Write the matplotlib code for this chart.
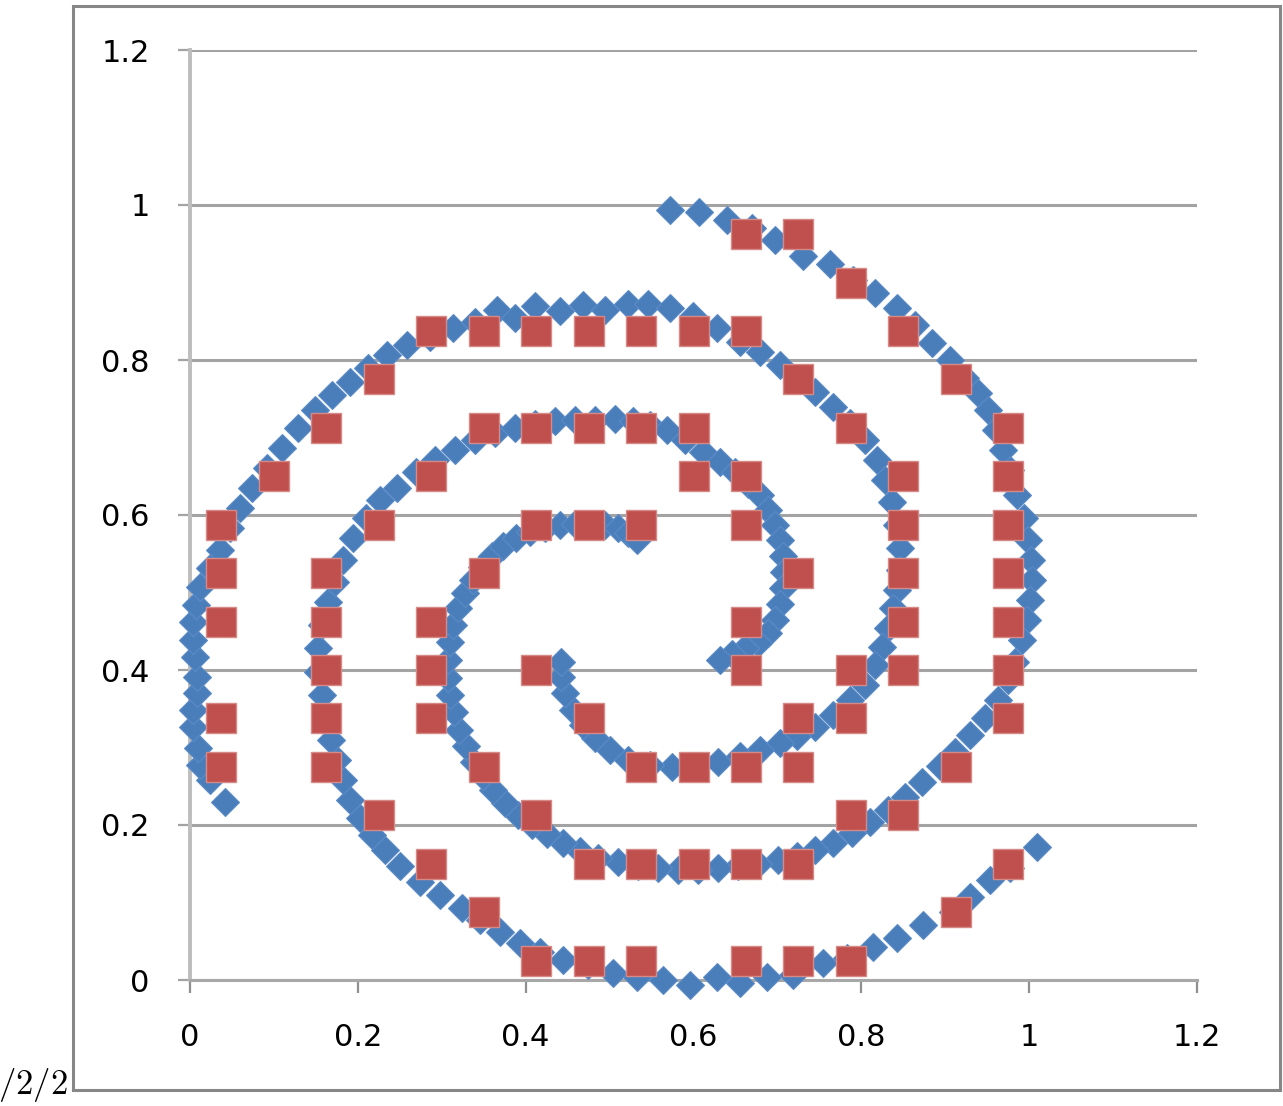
import matplotlib.pyplot as plt
from matplotlib.patches import Rectangle

plt.rcParams['mathtext.fontset'] = 'cm'

# three spiral arms (blue diamonds), each traced from its outer end inwards
arm1_x = [1.009, 0.977, 0.953, 0.929, 0.909, 0.873, 0.842, 0.814, 0.783, 0.754,
          0.719, 0.688, 0.655, 0.628, 0.596, 0.564, 0.533, 0.504, 0.474, 0.445,
          0.417, 0.393, 0.369, 0.346, 0.324, 0.298, 0.274, 0.250, 0.232, 0.217,
          0.203, 0.191, 0.182, 0.175, 0.168, 0.163, 0.157, 0.153, 0.153, 0.157,
          0.164, 0.173, 0.182, 0.194, 0.210, 0.226, 0.247, 0.269, 0.292, 0.316,
          0.340, 0.363, 0.387, 0.411, 0.435, 0.459, 0.483, 0.506, 0.528, 0.548,
          0.568, 0.590, 0.611, 0.632, 0.649, 0.665, 0.679, 0.689, 0.697, 0.703,
          0.707, 0.708, 0.707, 0.703, 0.697, 0.689, 0.677, 0.661, 0.646, 0.632]
arm1_y = [0.172, 0.145, 0.129, 0.107, 0.088, 0.071, 0.054, 0.043, 0.028, 0.022,
          0.006, 0.004, -0.004, 0.004, -0.006, 0.000, 0.004, 0.009, 0.019, 0.026,
          0.036, 0.048, 0.062, 0.077, 0.093, 0.110, 0.126, 0.147, 0.168, 0.187,
          0.209, 0.232, 0.258, 0.284, 0.310, 0.338, 0.368, 0.397, 0.428, 0.458,
          0.488, 0.514, 0.542, 0.570, 0.596, 0.619, 0.635, 0.655, 0.671, 0.684,
          0.697, 0.706, 0.712, 0.717, 0.721, 0.723, 0.723, 0.724, 0.721, 0.716,
          0.710, 0.697, 0.681, 0.668, 0.655, 0.640, 0.626, 0.606, 0.587, 0.568,
          0.547, 0.526, 0.506, 0.485, 0.465, 0.448, 0.435, 0.428, 0.421, 0.413]

arm2_x = [0.042, 0.024, 0.012, 0.010, 0.004, 0.004, 0.008, 0.008, 0.006, 0.004,
          0.004, 0.007, 0.012, 0.024, 0.036, 0.048, 0.060, 0.074, 0.092, 0.110,
          0.129, 0.149, 0.169, 0.191, 0.212, 0.235, 0.259, 0.286, 0.313, 0.340,
          0.366, 0.387, 0.411, 0.441, 0.468, 0.495, 0.522, 0.546, 0.572, 0.599,
          0.628, 0.655, 0.679, 0.703, 0.723, 0.745, 0.766, 0.786, 0.804, 0.819,
          0.828, 0.837, 0.842, 0.846, 0.846, 0.842, 0.838, 0.832, 0.825, 0.816,
          0.804, 0.786, 0.766, 0.745, 0.723, 0.703, 0.679, 0.655, 0.629, 0.602,
          0.574, 0.548, 0.522, 0.500, 0.483, 0.468, 0.456, 0.447, 0.442, 0.442]
arm2_y = [0.230, 0.258, 0.277, 0.299, 0.326, 0.348, 0.370, 0.391, 0.417, 0.439,
          0.462, 0.484, 0.507, 0.532, 0.555, 0.583, 0.609, 0.635, 0.661, 0.686,
          0.712, 0.735, 0.755, 0.772, 0.790, 0.806, 0.819, 0.830, 0.841, 0.849,
          0.865, 0.854, 0.870, 0.863, 0.871, 0.865, 0.872, 0.872, 0.867, 0.857,
          0.841, 0.823, 0.810, 0.794, 0.777, 0.759, 0.739, 0.719, 0.697, 0.671,
          0.645, 0.617, 0.587, 0.557, 0.529, 0.503, 0.480, 0.454, 0.430, 0.406,
          0.381, 0.361, 0.342, 0.326, 0.315, 0.306, 0.297, 0.289, 0.281, 0.276,
          0.275, 0.277, 0.284, 0.297, 0.312, 0.329, 0.348, 0.370, 0.391, 0.410]

arm3_x = [0.572, 0.607, 0.640, 0.670, 0.697, 0.730, 0.763, 0.790, 0.816, 0.842,
          0.864, 0.884, 0.906, 0.923, 0.939, 0.951, 0.960, 0.969, 0.977, 0.985,
          0.994, 0.999, 1.002, 1.003, 1.001, 0.997, 0.991, 0.983, 0.975, 0.963,
          0.947, 0.929, 0.912, 0.894, 0.872, 0.852, 0.832, 0.810, 0.789, 0.766,
          0.745, 0.723, 0.701, 0.677, 0.653, 0.629, 0.605, 0.582, 0.558, 0.534,
          0.510, 0.486, 0.465, 0.445, 0.425, 0.408, 0.391, 0.375, 0.361, 0.349,
          0.338, 0.329, 0.321, 0.315, 0.310, 0.307, 0.307, 0.310, 0.313, 0.319,
          0.328, 0.337, 0.348, 0.360, 0.373, 0.388, 0.405, 0.423, 0.441, 0.459,
          0.477, 0.495, 0.510, 0.522, 0.533]
arm3_y = [0.994, 0.991, 0.981, 0.970, 0.955, 0.934, 0.924, 0.903, 0.886, 0.867,
          0.845, 0.822, 0.800, 0.777, 0.757, 0.735, 0.710, 0.684, 0.658, 0.626,
          0.596, 0.568, 0.542, 0.516, 0.490, 0.465, 0.439, 0.410, 0.387, 0.361,
          0.338, 0.316, 0.294, 0.276, 0.255, 0.236, 0.219, 0.204, 0.190, 0.177,
          0.168, 0.160, 0.155, 0.150, 0.147, 0.145, 0.142, 0.142, 0.145, 0.147,
          0.152, 0.157, 0.166, 0.177, 0.188, 0.200, 0.213, 0.228, 0.245, 0.263,
          0.281, 0.302, 0.323, 0.346, 0.368, 0.390, 0.413, 0.436, 0.458, 0.480,
          0.499, 0.516, 0.533, 0.547, 0.560, 0.570, 0.578, 0.583, 0.587, 0.588,
          0.588, 0.587, 0.583, 0.577, 0.568]

# red grid squares, row by row (top to bottom)
sq_row_y = [0.9625, 0.9, 0.8375, 0.775, 0.7125, 0.65, 0.5875, 0.525,
            0.4625, 0.4, 0.3375, 0.275, 0.2125, 0.15, 0.0875, 0.025]
sq_row_x = [
    [0.6625, 0.725],
    [0.7875],
    [0.2875, 0.35, 0.4125, 0.475, 0.5375, 0.6, 0.6625, 0.85],
    [0.225, 0.725, 0.9125],
    [0.1625, 0.35, 0.4125, 0.475, 0.5375, 0.6, 0.7875, 0.975],
    [0.1, 0.2875, 0.6, 0.6625, 0.85, 0.975],
    [0.0375, 0.225, 0.4125, 0.475, 0.5375, 0.6625, 0.85, 0.975],
    [0.0375, 0.1625, 0.35, 0.725, 0.85, 0.975],
    [0.0375, 0.1625, 0.2875, 0.6625, 0.85, 0.975],
    [0.1625, 0.2875, 0.4125, 0.6625, 0.7875, 0.85, 0.975],
    [0.0375, 0.1625, 0.2875, 0.475, 0.725, 0.7875, 0.975],
    [0.0375, 0.1625, 0.35, 0.5375, 0.6, 0.6625, 0.725, 0.9125],
    [0.225, 0.4125, 0.7875, 0.85],
    [0.2875, 0.475, 0.5375, 0.6, 0.6625, 0.725, 0.975],
    [0.35, 0.9125],
    [0.4125, 0.475, 0.5375, 0.6625, 0.725, 0.7875],
]

ticks = [0, 0.2, 0.4, 0.6, 0.8, 1.0, 1.2]
tick_labels = ['0', '0.2', '0.4', '0.6', '0.8', '1', '1.2']

sq_x = []
sq_y = []
for yy, xs in zip(sq_row_y, sq_row_x):
    for xx in xs:
        sq_x.append(xx)
        sq_y.append(yy)

W, H = 1283, 1106
fig = plt.figure(figsize=(W / 100, H / 100), dpi=100)
ax = fig.add_axes([190 / W, 126 / H, 1007 / W, 930 / H])

blue = '#4a7ebb'
red = '#c0504d'
for xs, ys in [(arm1_x, arm1_y), (arm2_x, arm2_y), (arm3_x, arm3_y)]:
    ax.plot(xs, ys, 'D', ms=14.5, color=blue, mec='#5b8bc6', mew=0.8,
            clip_on=False, zorder=3)
ax.plot(sq_x, sq_y, 's', ms=21, color=red, mec='#d58a88', mew=1.0,
        clip_on=False, zorder=4)

ax.set_xlim(0, 1.2)
ax.set_ylim(0, 1.2)
ax.set_xticks(ticks)
ax.set_xticklabels(tick_labels)
ax.set_yticks(ticks)
ax.set_yticklabels(tick_labels)

ax.yaxis.grid(True, color='#a3a3a3', lw=2.2)
ax.set_axisbelow(True)
for s in ['top', 'right']:
    ax.spines[s].set_visible(False)
ax.spines['left'].set_color('#bdbdbd')
ax.spines['left'].set_linewidth(2.8)
ax.spines['bottom'].set_color('#a8a8a8')
ax.spines['bottom'].set_linewidth(2.2)

ax.tick_params(axis='x', direction='out', length=9, width=1.6,
               color='#8f8f8f', pad=22, labelsize=22, labelcolor='#000000')
ax.tick_params(axis='y', direction='out', length=9, width=1.6,
               color='#a3a3a3', pad=20, labelsize=22, labelcolor='#000000')

# outer frame and stray label
fig.add_artist(Rectangle((73 / W, 16 / H), 1207 / W, 1084 / H,
                         transform=fig.transFigure, fill=False,
                         ec='#878787', lw=2.2))
fig.text(68 / W, 2 / H, r'$/2/2$', ha='right', va='bottom', fontsize=25)

fig.savefig('out.png', dpi=100)
